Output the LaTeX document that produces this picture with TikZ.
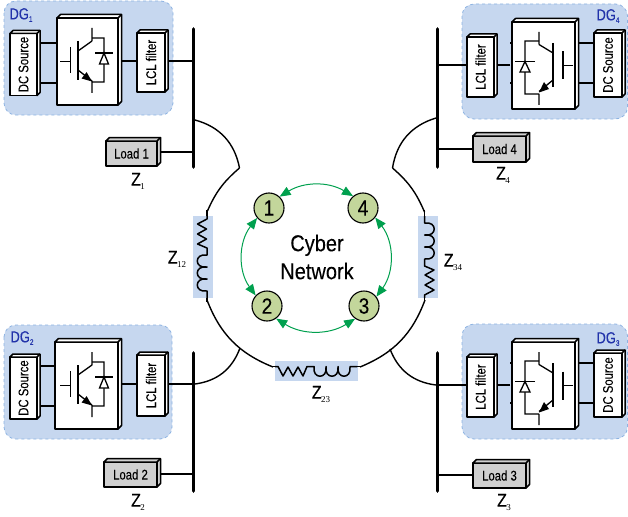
\documentclass[tikz,border=0pt]{standalone}
\usepackage{fontspec}
\usepackage{graphicx}
\usetikzlibrary{arrows.meta,calc}
\newfontfamily\nf[FakeStretch=0.81,FakeBold=0.15]{Liberation Sans}
\newfontfamily\nfc[FakeStretch=0.87,FakeBold=0.15]{Liberation Sans}
\newfontfamily\srf{Liberation Serif}
\definecolor{dgblue}{HTML}{C6D7EF}
\definecolor{dgedge}{HTML}{8DB3E2}
\definecolor{dgtext}{HTML}{2233AA}
\definecolor{zband}{HTML}{C6D7EF}
\definecolor{nodegreen}{HTML}{C3D69B}
\definecolor{cyb}{HTML}{00A04E}
\definecolor{loadgray}{HTML}{D0D0D0}
\tikzset{
  x=1pt,y=-1pt,
  region/.style={draw=dgedge,fill=dgblue,dashed,line width=0.8pt,rounded corners=12pt},
  band/.style={fill=zband,draw=none},
  wire/.style={line width=1.3pt,black},
  busbar/.style={line width=3.6pt,black,line cap=round},
  face/.style={draw=black,line width=1.5pt,inner sep=0pt,outer sep=0pt,line join=round},
  sym/.style={line width=1.3pt,black},
  cybnode/.style={circle,draw=black,line width=1.1pt,fill=nodegreen,minimum size=30pt,inner sep=0pt,font=\nfc\fontsize{22}{22}\selectfont},
  cyblink/.style={draw=cyb,line width=1pt,{Triangle[length=11pt,width=9pt]}-{Triangle[length=11pt,width=9pt]}},
  dgl/.style={text=dgtext,inner sep=0pt,font=\nf\fontsize{16}{16}\selectfont},
  zl/.style={inner sep=0pt}
}
\newcommand{\threed}[8]{%
  \node[face,fill=#7,minimum width=#4pt,minimum height=#5pt] (#1) at (#2,#3) {#8};
  \draw[face,fill=#7] (#1.north west) -- ++(#6,-#6) -- ++(#4,0) -- ++(0,#5) -- ++(-#6,#6) -- (#1.south east) -- (#1.north east) -- cycle;
  \draw[face] (#1.north east) -- ++(#6,-#6);
}
\newcommand{\vt}[1]{\rotatebox{90}{\nf\fontsize{14}{14}\selectfont #1}}
\newcommand{\lt}[1]{\nf\fontsize{14}{14}\selectfont #1}
\newcommand{\zt}[2]{{\nfc\fontsize{18.5}{18}\selectfont Z}\raisebox{-3.5pt}{\hspace{-0.5pt}\srf\fontsize{9}{9}\selectfont #2}}
\newcommand{\dgt}[1]{DG\raisebox{-2.5pt}{\fontsize{8}{8}\selectfont #1}}
% switch symbol, left-hand blocks
\newcommand{\igbtL}[1]{\begin{scope}[shift={(#1)}]
  \draw[sym] (-27.5,0)--(-17,0) (-17,-14.5)--(-17,11.5) (-9.5,-20.5)--(-9.5,18.5);
  \draw[sym] (-9.5,-10.5)--(4.5,-20.5) (4.5,-33.5)--(4.5,-20.5);
  \draw[sym] (4.5,-23.5)--(16.5,-23.5)--(16.5,20.5)--(4.5,20.5) (4.5,19.5)--(4.5,31.5) (-9.5,8.5)--(4.5,19.5);
  \fill (4.5,20)--(-0.9,10.6)--(-5.9,17)--cycle;
  \draw[sym,fill=white] (16.5,-8.5)--(12,2.5)--(21,2.5)--cycle;
  \draw[sym] (7.5,-8.5)--(25.5,-8.5);
\end{scope}}
% switch symbol, right-hand blocks (mirrored)
\newcommand{\igbtR}[1]{\begin{scope}[shift={(#1)},xscale=-1]
  \draw[sym] (-29.5,0)--(-19.5,0) (-19.5,-14)--(-19.5,14) (-9.5,-22.5)--(-9.5,21.5);
  \draw[sym] (-9.5,-12.5)--(4.5,-21) (4.5,-33.5)--(4.5,-21);
  \draw[sym] (4.5,-24.5)--(18.5,-24.5)--(18.5,28.5)--(4.5,28.5) (4.5,28.5)--(4.5,39.5) (-9.5,14.5)--(4.5,26);
  \fill (4.5,27)--(-0.5,16.5)--(-5.5,23.5)--cycle;
  \draw[sym,fill=white] (18.5,-4)--(13.5,6.5)--(23.5,6.5)--cycle;
  \draw[sym] (8.5,-4)--(28.5,-4);
\end{scope}}
% impedance: zigzag then coil, in local axes
\newcommand{\zcoil}{%
  \draw[sym,line width=1.5pt,line join=round] (0,0)--(3,0)--(8,9.5)--(13,0.5)--(18,9.5)--(23,0.5)--(28,9.5)--(32,0)--(39,0)
   .. controls (37,13) and (53,13) .. (51,0)
   .. controls (49,13) and (65,13) .. (63,0)
   .. controls (61,13) and (77,13) .. (75,0) -- (82,0);
}
\begin{document}
\begin{tikzpicture}
\useasboundingbox (0,0) rectangle (628,516);
% regions
\draw[region] (4,1) rectangle (173,115);
\draw[region] (4,325) rectangle (172,439);
\draw[region] (462,4) rectangle (627.5,119);
\draw[region] (462,324) rectangle (627.5,439);
\node[dgl] (lg1) at (21,15) {\dgt{1}};
\node[dgl] (lg2) at (22,338) {\dgt{2}};
\node[dgl] (lg4) at (608,16) {\dgt{4}};
\node[dgl] (lg3) at (608,339) {\dgt{3}};
% busbars
\coordinate (b1t) at (193.5,29);  \coordinate (b1b) at (193.5,167);
\coordinate (b2t) at (193.5,353); \coordinate (b2b) at (193.5,491);
\coordinate (b4t) at (437.5,29);  \coordinate (b4b) at (437.5,167);
\coordinate (b3t) at (437.5,353); \coordinate (b3b) at (437.5,491);
% wires of block 1
\coordinate (a1) at (38,43); \coordinate (a2) at (38,83); \coordinate (a3) at (119,61); \coordinate (a4) at (165,61); \coordinate (a5) at (158,152);
\coordinate (c1) at (38,366); \coordinate (c2) at (38,406); \coordinate (c3) at (119,384); \coordinate (c4) at (165,384); \coordinate (c5) at (158,474);
\coordinate (d1) at (596,43); \coordinate (d2) at (596,83); \coordinate (d3) at (510,65); \coordinate (d4) at (469,65); \coordinate (d5) at (475,149);
\coordinate (e1) at (596,363); \coordinate (e2) at (596,403); \coordinate (e3) at (510,385); \coordinate (e4) at (469,385); \coordinate (e5) at (475,475);
\draw[wire] (a1)--(a1-|a3) (a2)--(a2-|a3) (a3)--(a4) (a4)--(a4-|b1t) (a5)--(a5-|b1t);
\draw[wire] (c1)--(c1-|c3) (c2)--(c2-|c3) (c3)--(c4) (c4)--(c4-|b2t) (c5)--(c5-|b2t);
\draw[wire] (d1)--(d1-|d3) (d2)--(d2-|d3) (d3)--(d4) (d4)--(d4-|b4t) (d5)--(d5-|b4t);
\draw[wire] (e1)--(e1-|e3) (e2)--(e2-|e3) (e3)--(e4) (e4)--(e4-|b3t) (e5)--(e5-|b3t);
% block 1
\threed{dc1}{23.5}{64.5}{27}{62}{3}{white}{\vt{DC Source}}
\threed{inv1}{87.5}{61.5}{61}{87}{3.5}{white}{}
\threed{lcl1}{151}{62.5}{28}{59}{3}{white}{\vt{LCL filter}}
\threed{ld1}{131.5}{153.5}{51}{25}{3.5}{loadgray}{\lt{Load 1}}
\igbtL{87.5,61.5}
% block 2
\threed{dc2}{23.5}{388}{27}{62}{3}{white}{\vt{DC Source}}
\threed{inv2}{86.5}{385.5}{63}{87}{3.5}{white}{}
\threed{lcl2}{151}{385.5}{28}{61}{3}{white}{\vt{LCL filter}}
\threed{ld2}{130.5}{474.5}{53}{25}{3.5}{loadgray}{\lt{Load 2}}
\igbtL{87.5,385.5}
% block 4
\threed{lcl4}{480.5}{67}{27}{60}{3}{white}{\vt{LCL filter}}
\threed{inv4}{543.5}{65.5}{63}{87}{3.5}{white}{}
\threed{dc4}{608}{65}{28}{64}{3}{white}{\vt{DC Source}}
\threed{ld4}{499.5}{149}{53}{26}{3.5}{loadgray}{\lt{Load 4}}
\igbtR{543.5,65.5}
% block 3
\threed{lcl3}{480.5}{387}{27}{60}{3}{white}{\vt{LCL filter}}
\threed{inv3}{543.5}{385.5}{63}{87}{3.5}{white}{}
\threed{dc3}{608}{385}{28}{64}{3}{white}{\vt{DC Source}}
\threed{ld3}{499.5}{475.5}{53}{25}{3.5}{loadgray}{\lt{Load 3}}
\igbtR{543.5,385.5}
% ring junctions
\coordinate (j1a) at (195,120); \coordinate (j1b) at (239.5,168); \coordinate (j1c) at (207,212);
\coordinate (j4a) at (436,118); \coordinate (j4b) at (392.5,168); \coordinate (j4c) at (424.5,212);
\coordinate (k1a) at (207,300); \coordinate (k1b) at (273,367);
\coordinate (k2a) at (425,300); \coordinate (k2b) at (360,367);
\coordinate (m1a) at (240,348); \coordinate (m1b) at (195,384);
\coordinate (m2a) at (390,349); \coordinate (m2b) at (436,385);
\draw[wire,line width=1.4pt] (j1a) to[bend left=32] (j1b);
\draw[wire,line width=1.4pt] (j1b) to[bend right=13] (j1c);
\draw[wire,line width=1.4pt] (j4a) to[bend right=32] (j4b);
\draw[wire,line width=1.4pt] (j4b) to[bend left=13] (j4c);
\draw[wire,line width=1.4pt] (k1a) to[bend right=23.5] (k1b);
\draw[wire,line width=1.4pt] (k2a) to[bend left=23.5] (k2b);
\draw[wire,line width=1.4pt] (m1a) to[bend left=31] (m1b);
\draw[wire,line width=1.4pt] (m2a) to[bend right=31] (m2b);
% impedances
\fill[band] (193,216) rectangle (213,298);
\fill[band] (418,216) rectangle (438,298);
\fill[band] (275,361) rectangle (358,381);
\draw[wire,line width=1.4pt] (207,210)--(207,216) (207,298)--(207,302);
\draw[wire,line width=1.4pt] (424.5,210)--(424.5,216) (424.5,298)--(424.5,302);
\draw[wire,line width=1.4pt] (273,366.5)--(276,366.5) (357,366.5)--(362,366.5);
\begin{scope}[shift={(207,216)},x={(0pt,-1pt)},y={(-1pt,0pt)}]\zcoil\end{scope}
\begin{scope}[shift={(424.5,298)},x={(0pt,1pt)},y={(1pt,0pt)}]\zcoil\end{scope}
\begin{scope}[shift={(275,366.5)},x={(1pt,0pt)},y={(0pt,-1pt)}]\zcoil\end{scope}
% impedance labels
\node[zl] (z1) at (138,181) {\zt{Z}{1}};
\node[zl] (z2) at (138,502) {\zt{Z}{2}};
\node[zl] (z3) at (504,502) {\zt{Z}{3}};
\node[zl] (z4) at (503,175) {\zt{Z}{4}};
\node[zl] (z12) at (177,259) {\zt{Z}{12}};
\node[zl] (z34) at (453,262) {\zt{Z}{34}};
\node[zl] (z23) at (321,394) {\zt{Z}{23}};
% cyber network
\node[cybnode] (n1) at (269,208) {1};
\node[cybnode] (n4) at (363,208) {4};
\node[cybnode] (n2) at (267,306) {2};
\node[cybnode] (n3) at (364,306) {3};
\node[align=center,inner sep=0pt,font=\nfc\fontsize{23}{28}\selectfont] (cn) at (317,257) {Cyber\\Network};
\draw[cyblink] (n1.47) to[bend left=31] (n4.130);
\draw[cyblink] (n4.-38) to[bend left=37] (n3.37);
\draw[cyblink] (n3.235) to[bend left=32] (n2.-54);
\draw[cyblink] (n2.137) to[bend left=37] (n1.220);
% busbars on top
\draw[busbar] (b1t)--(b1b);
\draw[busbar] (b2t)--(b2b);
\draw[busbar] (b4t)--(b4b);
\draw[busbar] (b3t)--(b3b);
\end{tikzpicture}
\end{document}
